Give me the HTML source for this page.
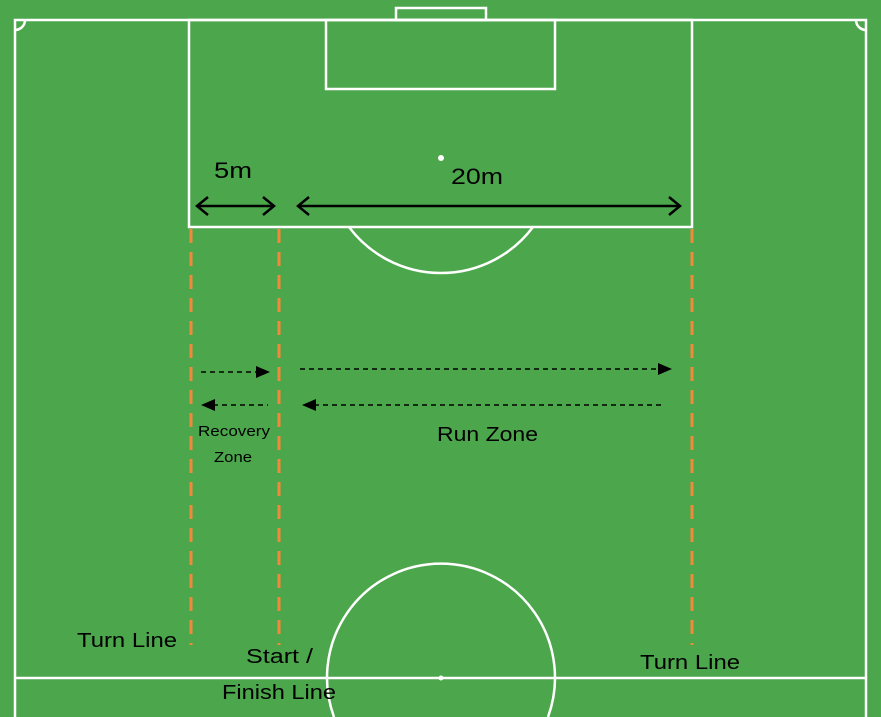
<!DOCTYPE html>
<html><head><style>html,body{margin:0;padding:0;background:#4ca64c;overflow:hidden;width:881px;height:717px}svg{display:block}</style></head>
<body>
<svg width="881" height="717" viewBox="0 0 881 717" xmlns="http://www.w3.org/2000/svg" font-family="Liberation Sans, sans-serif">
<rect width="881" height="717" fill="#4ca64c"/>
<g fill="none" stroke="#fff" stroke-width="2.5">
<polyline points="15,717 15,20 866,20 866,717"/>
<line x1="15" y1="678" x2="866" y2="678"/>
<rect x="189" y="20" width="503" height="207"/>
<rect x="326" y="20" width="229" height="69"/>
<rect x="396" y="8" width="90" height="12"/>
<path d="M349,227 A115,115 0 0 0 533,227"/>
<path d="M334,717 A114,114 0 1 1 548,717"/>
<path d="M15,30 A10,10 0 0 0 25,20"/>
<path d="M856,20 A10,10 0 0 0 866,30"/>
</g>
<circle cx="441" cy="158" r="3" fill="#fff"/>
<circle cx="441" cy="678" r="2.5" fill="#fff"/>
<g stroke="#f08a3a" stroke-width="3" stroke-dasharray="14,9">
<line x1="191" y1="229" x2="191" y2="645"/>
<line x1="279" y1="229" x2="279" y2="645"/>
<line x1="692" y1="229" x2="692" y2="645"/>
</g>
<g stroke="#000" stroke-width="2.5" fill="none">
<line x1="198" y1="206" x2="273" y2="206"/>
<polyline points="208,197 197,206 208,215"/>
<polyline points="263,197 274,206 263,215"/>
<line x1="299" y1="206" x2="679" y2="206"/>
<polyline points="309,197 298,206 309,215"/>
<polyline points="669,197 680,206 669,215"/>
</g>
<g stroke="#000" stroke-width="1.5" stroke-dasharray="5,4">
<line x1="201" y1="372" x2="258" y2="372"/>
<line x1="300" y1="369" x2="660" y2="369"/>
<line x1="213" y1="405" x2="268" y2="405"/>
<line x1="314" y1="405" x2="665" y2="405"/>
</g>
<g fill="#000">
<polygon points="256,366 270,372 256,378"/>
<polygon points="658,363 672,369 658,375"/>
<polygon points="215,399 201,405 215,411"/>
<polygon points="316,399 302,405 316,411"/>
</g>
<g fill="#000">
<text x="214" y="178" font-size="22" textLength="38" lengthAdjust="spacingAndGlyphs">5m</text>
<text x="451" y="184" font-size="22" textLength="52" lengthAdjust="spacingAndGlyphs">20m</text>
<text x="437" y="441" font-size="20" textLength="101" lengthAdjust="spacingAndGlyphs">Run Zone</text>
<text x="198" y="436" font-size="15" textLength="72" lengthAdjust="spacingAndGlyphs">Recovery</text>
<text x="214" y="462" font-size="15" textLength="38" lengthAdjust="spacingAndGlyphs">Zone</text>
<text x="77" y="647" font-size="20" textLength="100" lengthAdjust="spacingAndGlyphs">Turn Line</text>
<text x="246" y="663" font-size="20" textLength="67" lengthAdjust="spacingAndGlyphs">Start /</text>
<text x="222" y="699" font-size="20" textLength="114" lengthAdjust="spacingAndGlyphs">Finish Line</text>
<text x="640" y="669" font-size="20" textLength="100" lengthAdjust="spacingAndGlyphs">Turn Line</text>
</g>
</svg>
</body></html>
